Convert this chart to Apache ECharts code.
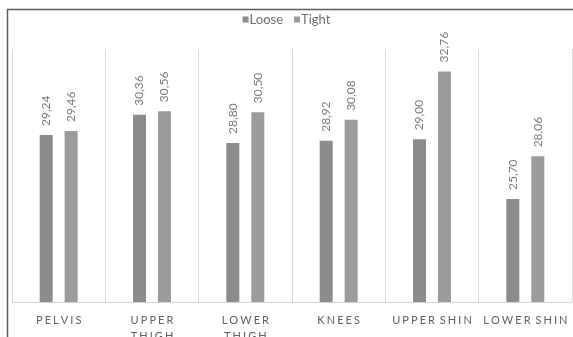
<!DOCTYPE html>
<html>
<head>
<meta charset="utf-8">
<script src="https://cdn.jsdelivr.net/npm/echarts@6/dist/echarts.min.js"></script>
<style>
  html, body { margin: 0; padding: 0; background: #ffffff; }
  #chart { width: 573px; height: 337px; }
</style>
</head>
<body>
<div id="chart"></div>
<script>
// Body zones measured
const categories = ['PELVIS', 'UPPER THIGH', 'LOWER THIGH', 'KNEES', 'UPPER SHIN', 'LOWER SHIN'];
const looseValues = [29.24, 30.36, 28.80, 28.92, 29.00, 25.70];
const tightValues = [29.46, 30.56, 30.50, 30.08, 32.76, 28.06];
const seriesNames = ['Loose', 'Tight'];

const FONT = 'Lato, "Open Sans", sans-serif';

// Spread the capitals apart and put long two-word names on two lines
const GAP = '\u2009\u200a';
function spaced(name) {
  const words = name.split(' ');
  const spreadWord = w => w.split('').join(GAP);
  if (name.length > 10) return words.map(spreadWord).join('\n');
  return words.map(spreadWord).join(GAP + ' ');
}

const valueLabel = {
  show: true,
  position: 'top',
  rotate: 90,
  align: 'left',
  verticalAlign: 'middle',
  distance: 9,
  fontFamily: FONT,
  fontSize: 12,
  color: '#7a7a7a',
  formatter: p => p.value.toFixed(2).replace('.', ',')
};

const chart = echarts.init(document.getElementById('chart'), null, { renderer: 'canvas' });
chart.setOption({
  animation: false,
  backgroundColor: '#ffffff',
  legend: {
    top: 8,
    left: 'center',
    itemWidth: 6,
    itemHeight: 6,
    itemGap: 11,
    icon: 'rect',
    textStyle: { fontFamily: FONT, fontSize: 13, color: '#6e6e6e', padding: [0, 0, 0, -4] },
    data: seriesNames
  },
  grid: { left: 12, right: 1, top: 49, bottom: 35, containLabel: false, outerBoundsMode: 'none' },
  xAxis: {
    type: 'category',
    data: categories,
    boundaryGap: true,
    axisLine: { show: true, lineStyle: { color: '#d4d4d4', width: 1 } },
    axisTick: { show: false },
    splitLine: { show: true, lineStyle: { color: '#d9d9d9', width: 1 } },
    axisLabel: {
      interval: 0,
      margin: 10,
      fontFamily: FONT,
      fontSize: 11,
      lineHeight: 16,
      color: '#606060',
      formatter: spaced
    }
  },
  yAxis: {
    type: 'value',
    min: 20,
    max: 34,
    show: false,
    splitLine: { show: false }
  },
  series: [
    {
      name: seriesNames[0],
      type: 'bar',
      data: looseValues,
      barWidth: 13,
      barGap: '92%',
      itemStyle: { color: '#8b8b8b' },
      label: valueLabel
    },
    {
      name: seriesNames[1],
      type: 'bar',
      data: tightValues,
      barWidth: 13,
      itemStyle: { color: '#9b9b9b' },
      label: valueLabel
    }
  ],
  graphic: [
    {
      type: 'rect',
      silent: true,
      shape: { x: 7.5, y: 9.5, width: 700, height: 500 },
      style: { fill: 'none', stroke: '#5a5a5a', lineWidth: 1.5 }
    }
  ]
});
</script>
</body>
</html>
